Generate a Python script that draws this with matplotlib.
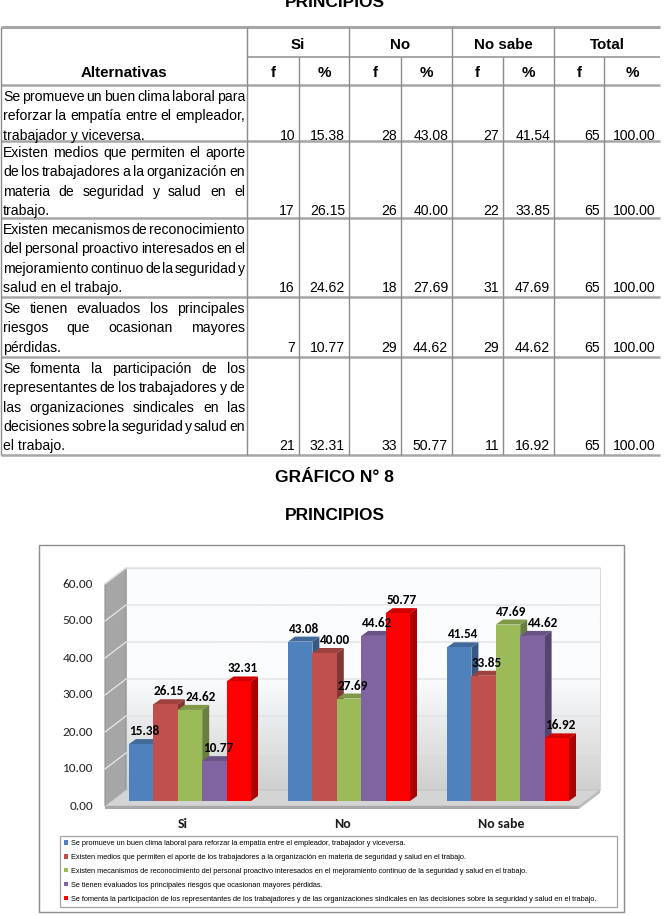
import matplotlib
matplotlib.use("Agg")
import matplotlib.pyplot as plt
import numpy as np
from matplotlib import font_manager
from matplotlib.colors import to_rgb
from matplotlib.patches import Polygon, Rectangle, Patch

# ---- data -------------------------------------------------------------
categories = ["Si", "No", "No sabe"]

alternativas = [
    "Se promueve un buen clima laboral para reforzar la empatía entre el empleador, trabajador y viceversa.",
    "Existen medios que permiten el aporte de los trabajadores a la organización en materia de seguridad y salud en el trabajo.",
    "Existen mecanismos de reconocimiento del personal proactivo interesados en el mejoramiento continuo de la seguridad y salud en el trabajo.",
    "Se tienen evaluados los principales riesgos que ocasionan mayores pérdidas.",
    "Se fomenta la participación de los representantes de los trabajadores y de las organizaciones sindicales en las decisiones sobre la seguridad y salud en el trabajo.",
]

# line breaks as they appear in the table cells
filas_tabla = [
    ["Se promueve un buen clima laboral para",
     "reforzar la empatía entre el empleador,",
     "trabajador y viceversa."],
    ["Existen medios que permiten el aporte",
     "de los trabajadores a la organización en",
     "materia de seguridad y salud en el",
     "trabajo."],
    ["Existen mecanismos de reconocimiento",
     "del personal proactivo interesados en el",
     "mejoramiento continuo de la seguridad y",
     "salud en el trabajo."],
    ["Se tienen evaluados los principales",
     "riesgos que ocasionan mayores",
     "pérdidas."],
    ["Se fomenta la participación de los",
     "representantes de los trabajadores y de",
     "las organizaciones sindicales en las",
     "decisiones sobre la seguridad y salud en",
     "el trabajo."],
]

si_f = [10, 17, 16, 7, 21]
si_pct = [15.38, 26.15, 24.62, 10.77, 32.31]
no_f = [28, 26, 18, 29, 33]
no_pct = [43.08, 40.00, 27.69, 44.62, 50.77]
ns_f = [27, 22, 31, 29, 11]
ns_pct = [41.54, 33.85, 47.69, 44.62, 16.92]
total_f = [65, 65, 65, 65, 65]
total_pct = [100.00, 100.00, 100.00, 100.00, 100.00]

y_ticks = [0, 10, 20, 30, 40, 50, 60]
colores = ["#4f81bd", "#c0504d", "#9bbb59", "#8064a2", "#ff0000"]


# ---- fonts ------------------------------------------------------------
def pick(*names):
    for n in names:
        try:
            font_manager.findfont(font_manager.FontProperties(family=n),
                                  fallback_to_default=False)
            return n
        except Exception:
            pass
    return "DejaVu Sans"


NARROW = pick("Liberation Sans Narrow", "Arial Narrow")
if NARROW == "DejaVu Sans":
    NARROW = pick("Liberation Sans", "Arimo")
    NSCALE = 0.84
else:
    NSCALE = 1.0
ARIAL = pick("Liberation Sans", "Arimo")
CALIBRI = pick("Carlito", "Lato", "Open Sans")

W, H = 669, 915
fig = plt.figure(figsize=(W / 100, H / 100), dpi=100)
fig.patch.set_facecolor("white")
renderer = fig.canvas.get_renderer()

# page axes in pixel units
pg = fig.add_axes([0, 0, 1, 1])
pg.set_xlim(0, W)
pg.set_ylim(H, 0)
pg.axis("off")

# ---- table ------------------------------------------------------------
# title of the page above, cut by the top edge as in the source scan
pg.text(W / 2, 7, "PRINCIPIOS", ha="center", va="baseline",
        family=ARIAL, weight="bold", size=12.5)

col_x = [1, 247, 299, 349, 401, 452, 503, 554, 604, 660]
row_y = [85, 141, 218, 297, 357, 455]
t_top, t_mid = 27, 57
gcol = "#a6a6a6"

pg.hlines([t_top], 1, 660, color=gcol, lw=2.2)
pg.hlines([t_mid], 247, 660, color=gcol, lw=1.4)
pg.hlines(row_y, 1, 660, color=gcol, lw=1.8)
pg.vlines([1, 247, 349, 452, 554], t_top, row_y[-1], color="#8c8c8c", lw=1.0)
pg.vlines([299, 401, 503, 604], t_mid, row_y[-1], color="#8c8c8c", lw=1.0)

hsize = 13 * NSCALE
tsize = 12 * NSCALE
for i, name in enumerate(["Si", "No", "No sabe", "Total"]):
    xc = (col_x[1 + 2 * i] + col_x[3 + 2 * i]) / 2
    pg.text(xc, 49, name, ha="center", va="baseline", family=NARROW,
            weight="bold", size=hsize)
for j in range(8):
    xc = (col_x[1 + j] + col_x[2 + j]) / 2
    pg.text(xc, 77, "f" if j % 2 == 0 else "%", ha="center", va="baseline",
            family=NARROW, weight="bold", size=hsize)
pg.text(124, 77, "Alternativas", ha="center", va="baseline", family=NARROW,
        weight="bold", size=hsize)

fp = font_manager.FontProperties(family=NARROW, size=tsize)


def text_w(s):
    w, h, d = renderer.get_text_width_height_descent(s, fp, ismath=False)
    return w


x_left, x_right = 3, 245
line_h = 19.3
for r, lines in enumerate(filas_tabla):
    top = row_y[r]
    for k, line in enumerate(lines):
        yb = top + 16 + k * line_h
        words = line.split()
        if k == len(lines) - 1 or len(words) == 1:
            pg.text(x_left, yb, line, ha="left", va="baseline",
                    fontproperties=fp)
        else:
            # justified line
            widths = [text_w(wd) for wd in words]
            gap = (x_right - x_left - sum(widths)) / (len(words) - 1)
            xx = x_left
            for wd, ww in zip(words, widths):
                pg.text(xx, yb, wd, ha="left", va="baseline",
                        fontproperties=fp)
                xx += ww + gap
    yb = top + 16 + (len(lines) - 1) * line_h
    vals = [str(si_f[r]), f"{si_pct[r]:.2f}", str(no_f[r]), f"{no_pct[r]:.2f}",
            str(ns_f[r]), f"{ns_pct[r]:.2f}", str(total_f[r]),
            f"{total_pct[r]:.2f}"]
    for j, v in enumerate(vals):
        pg.text(col_x[2 + j] - 4, yb, v, ha="right", va="baseline",
                fontproperties=fp)

# ---- titles -----------------------------------------------------------
pg.text(W / 2, 478, "GRÁFICO N° 8", ha="center", va="center",
        family=ARIAL, weight="bold", size=12.5)
pg.text(W / 2, 516, "PRINCIPIOS", ha="center", va="center",
        family=ARIAL, weight="bold", size=12.5)
pg.add_patch(Rectangle((39, 545), 585, 367, fill=False, ec="#8c8c8c", lw=1.0))

# ---- 3D-looking clustered bars ----------------------------------------
PX_G = 159.0   # pixels per category
PX_V = 3.7     # pixels per percent
X0PX, Y0PX = 190.0, 801.0


def fx(px):
    return (px - X0PX) / PX_G


def fy(py):
    return (Y0PX - py) / PX_V


bl, bt, br, bb = 40, 548, 622, 832
ax = fig.add_axes([bl / W, 1 - bb / H, (br - bl) / W, (bb - bt) / H])
ax.axis("off")

fl_y = fy(806)
xl, xr = fx(105), fx(579)
dxw, dyw = 21 / PX_G, 16 / PX_V
ymax = y_ticks[-1]

# back wall gradient
t = np.linspace(0, 1, 200)[:, None]
mix = np.clip(t / 0.5, 0, 1)
c0 = np.array(to_rgb("#cfcfcf"))
c1 = np.array(to_rgb("#fbfcfe"))
grad = (c0 * (1 - mix) + c1 * mix)[..., None, :].repeat(2, axis=1)
grad = grad[::-1]
ax.imshow(grad, extent=[xl + dxw, xr + dxw, fl_y + dyw, fl_y + dyw + ymax],
          aspect="auto", zorder=1, interpolation="bilinear")
ax.add_patch(Rectangle((xl + dxw, fl_y + dyw), xr - xl, ymax, fill=False,
                       ec="#d9d9d9", lw=0.8, zorder=2))

# left wall
ax.add_patch(Polygon([(xl, fl_y), (xl + dxw, fl_y + dyw),
                      (xl + dxw, fl_y + dyw + ymax), (xl, fl_y + ymax)],
                     closed=True, fc="#a6a6a6", ec="#8f8f8f", lw=0.8, zorder=2))
# floor
ax.add_patch(Polygon([(xl, fl_y), (xr, fl_y), (xr + dxw, fl_y + dyw),
                      (xl + dxw, fl_y + dyw)],
                     closed=True, fc="#d4d4d4", ec="#bdbdbd", lw=0.6, zorder=2))
th = 3 / PX_V
ax.add_patch(Polygon([(xl, fl_y), (xr, fl_y), (xr, fl_y - th), (xl, fl_y - th)],
                     closed=True, fc="#a9a9a9", ec="none", zorder=2))
ax.add_patch(Polygon([(xr, fl_y), (xr + dxw, fl_y + dyw),
                      (xr + dxw, fl_y + dyw - th), (xr, fl_y - th)],
                     closed=True, fc="#bcbcbc", ec="none", zorder=2))

for v in y_ticks[1:]:
    ax.plot([xl, xl + dxw, xr + dxw], [fl_y + v, fl_y + dyw + v, fl_y + dyw + v],
            color="#e2e2e2", lw=1.0, zorder=3, solid_joinstyle="miter")
for v in y_ticks:
    ax.text(fx(93), fl_y + v, f"{v:.2f}", ha="right", va="center",
            family=CALIBRI, size=9.5, color="#262626")


def shade(c, f):
    r, g, b = to_rgb(c)
    return (r * f, g * f, b * f)


series = [[si_pct[s], no_pct[s], ns_pct[s]] for s in range(5)]
bw = 24.4 / PX_G
dxb, dyb = 7 / PX_G, 5 / PX_V
xg = np.arange(len(categories))
handles = []
labels_by_group = [[] for _ in categories]
for s, vals in enumerate(series):
    xs = xg + (s - 2) * bw
    bars = ax.bar(xs, vals, bw, color=colores[s], zorder=10 + s, lw=0)
    handles.append(Patch(fc=colores[s], ec="none"))
    for g, rect in enumerate(bars):
        x0 = rect.get_x()
        x1 = x0 + rect.get_width()
        h = rect.get_height()
        ax.add_patch(Polygon([(x1, 0), (x1 + dxb, dyb), (x1 + dxb, h + dyb), (x1, h)],
                             closed=True, fc=shade(colores[s], 0.68), ec="none",
                             zorder=9.5 + s))
        ax.add_patch(Polygon([(x0, h), (x1, h), (x1 + dxb, h + dyb), (x0 + dxb, h + dyb)],
                             closed=True, fc=shade(colores[s], 0.82), ec="none",
                             zorder=9.5 + s))
        lab = ax.text((x0 + x1) / 2 + dxb / 2, h + dyb + 2 / PX_V, f"{h:.2f}",
                      ha="center", va="bottom", family=CALIBRI, weight="bold",
                      size=9.5, color="black", zorder=40)
        labels_by_group[g].append(lab)

for g, cat in enumerate(categories):
    ax.text(g - 7 / PX_G, fy(824), cat, ha="center", va="center",
            family=CALIBRI, weight="bold", size=10, color="#1a1a1a")

ax.set_xlim(fx(bl), fx(br))
ax.set_ylim(fy(bb), fy(bt))

# nudge a data label to the right when it collides with its left neighbour
for labs in labels_by_group:
    for a, b in zip(labs[:-1], labs[1:]):
        ea = a.get_window_extent(renderer)
        eb = b.get_window_extent(renderer)
        if ea.overlaps(eb):
            shift = (ea.x1 - eb.x0 + 1) / PX_G
            bx, by = b.get_position()
            b.set_position((bx + shift, by))

# ---- legend -----------------------------------------------------------
leg = fig.legend(handles, alternativas, loc="upper left",
                 bbox_to_anchor=(60 / W, 1 - 836 / H, 557 / W, 0),
                 mode="expand", frameon=True, fancybox=False,
                 prop=font_manager.FontProperties(family=NARROW, size=6.35 * NSCALE),
                 handlelength=0.55, handleheight=0.55, handletextpad=0.4,
                 labelspacing=0.93, borderpad=0.55, borderaxespad=0)
leg.get_frame().set_edgecolor("#8c8c8c")
leg.get_frame().set_linewidth(0.9)

fig.savefig("out.png", dpi=100, facecolor="white")
